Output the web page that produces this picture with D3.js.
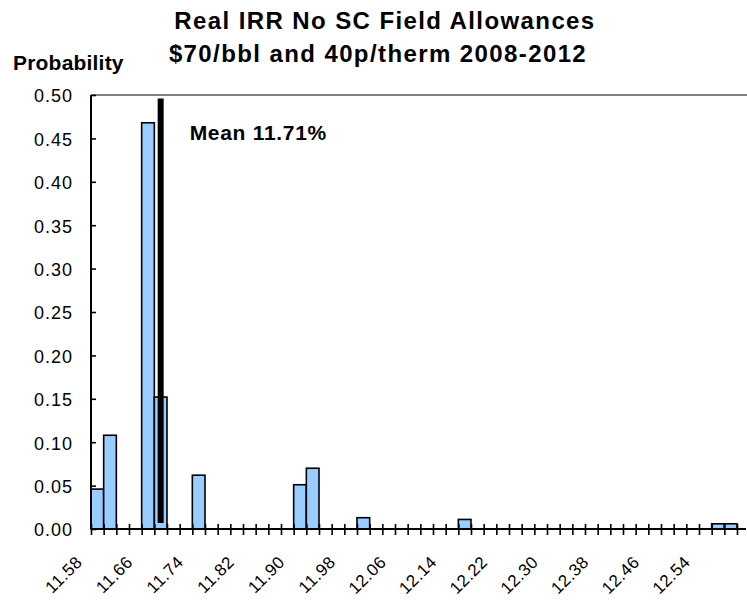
<!DOCTYPE html>
<html>
<head>
<meta charset="utf-8">
<script src="https://cdn.jsdelivr.net/npm/d3@7"></script>
<style>
  html, body { margin: 0; padding: 0; background: #ffffff; }
  svg { display: block; }
  text { font-family: "Liberation Sans", Arial, sans-serif; fill: #000; }
</style>
</head>
<body>
<svg id="chart" width="747" height="600"></svg>
<script>
// ---------- data ----------
const titleLines = ["Real IRR No SC Field Allowances", "$70/bbl and 40p/therm 2008-2012"];
const yAxisTitle = "Probability";

// lower edge of each 0.02-wide IRR bin (%)
const binStarts = [
  11.60, 11.62, 11.64, 11.66, 11.68, 11.70, 11.72, 11.74, 11.76, 11.78,
  11.80, 11.82, 11.84, 11.86, 11.88, 11.90, 11.92, 11.94, 11.96, 11.98,
  12.00, 12.02, 12.04, 12.06, 12.08, 12.10, 12.12, 12.14, 12.16, 12.18,
  12.20, 12.22, 12.24, 12.26, 12.28, 12.30, 12.32, 12.34, 12.36, 12.38,
  12.40, 12.42, 12.44, 12.46, 12.48, 12.50, 12.52, 12.54, 12.56, 12.58,
  12.60
];
const binWidth = 0.02;

const probabilities = [
  0.046, 0.108, 0.000, 0.000, 0.468, 0.152, 0.000, 0.000, 0.062, 0.000,
  0.000, 0.000, 0.000, 0.000, 0.000, 0.000, 0.051, 0.070, 0.000, 0.000,
  0.000, 0.013, 0.000, 0.000, 0.000, 0.000, 0.000, 0.000, 0.000, 0.011,
  0.000, 0.000, 0.000, 0.000, 0.000, 0.000, 0.000, 0.000, 0.000, 0.000,
  0.000, 0.000, 0.000, 0.000, 0.000, 0.000, 0.000, 0.000, 0.000, 0.006,
  0.006
];

const xTickLabels = ["11.58", "11.66", "11.74", "11.82", "11.90", "11.98",
                     "12.06", "12.14", "12.22", "12.30", "12.38", "12.46", "12.54"];
const yTickValues = [0.00, 0.05, 0.10, 0.15, 0.20, 0.25, 0.30, 0.35, 0.40, 0.45, 0.50];

const meanValue = 11.71;
const meanLabel = "Mean 11.71%";
const meanLineSpan = [0.007, 0.496];

// ---------- layout ----------
const svg = d3.select("#chart");
const plot = { left: 91, right: 737, top: 95, bottom: 529 };

const x = d3.scaleLinear()
  .domain([binStarts[0], binStarts[binStarts.length - 1] + binWidth])
  .range([plot.left, plot.right]);
const y = d3.scaleLinear().domain([0, 0.5]).range([plot.bottom, plot.top]);

const bins = binStarts.map((s, i) => ({ start: s, p: probabilities[i] }));

// title
const titleX = [385, 378];
svg.append("g").selectAll("text").data(titleLines).join("text")
  .attr("x", (d, i) => titleX[i])
  .attr("y", (d, i) => 28.5 + i * 33)
  .attr("text-anchor", "middle")
  .attr("font-size", 24)
  .attr("font-weight", "bold")
  .attr("letter-spacing", 1.4)
  .text(d => d);

// y axis title
svg.append("text")
  .attr("x", 13).attr("y", 70)
  .attr("font-size", 21).attr("font-weight", "bold")
  .attr("letter-spacing", 0.2)
  .text(yAxisTitle);

// plot top border
svg.append("line")
  .attr("x1", plot.left).attr("x2", 747)
  .attr("y1", plot.top).attr("y2", plot.top)
  .attr("stroke", "#808080").attr("stroke-width", 2);

// bars
svg.append("g").selectAll("rect").data(bins.filter(d => d.p > 0)).join("rect")
  .attr("x", d => x(d.start))
  .attr("width", d => x(d.start + binWidth) - x(d.start))
  .attr("y", d => y(d.p))
  .attr("height", d => y(0) - y(d.p))
  .attr("fill", "#99ccff")
  .attr("stroke", "#000")
  .attr("stroke-width", 1.6);

// x axis
const xAxis = d3.axisBottom(x)
  .tickValues(binStarts.concat([binStarts[binStarts.length - 1] + binWidth]))
  .tickSize(5)
  .tickFormat("");
const gx = svg.append("g").attr("transform", `translate(0,${plot.bottom})`).call(xAxis);
gx.select(".domain").remove();
gx.selectAll(".tick line").attr("y1", -5).attr("y2", 6).attr("stroke", "#000").attr("stroke-width", 1.6);
gx.append("line").attr("x1", plot.left).attr("x2", 746).attr("y1", 0).attr("y2", 0)
  .attr("stroke", "#000").attr("stroke-width", 2);

// x tick labels (rotated)
svg.append("g").selectAll("text").data(xTickLabels).join("text")
  .attr("transform", d => `translate(${x(+d) + 0.7},${plot.bottom + 30}) rotate(-45)`)
  .attr("text-anchor", "end")
  .attr("dy", "0.35em")
  .attr("font-size", 17)
  .attr("letter-spacing", 0.5)
  .text(d => d);

// y axis
const yAxis = d3.axisLeft(y)
  .tickValues(yTickValues)
  .tickSize(-5)
  .tickPadding(18)
  .tickFormat(d3.format(".2f"));
const gy = svg.append("g").attr("transform", `translate(${plot.left},0)`).call(yAxis);
gy.select(".domain").attr("stroke", "#000").attr("stroke-width", 2).attr("d", `M0,${plot.top}V${plot.bottom}`);
gy.selectAll(".tick line").attr("stroke", "#000").attr("stroke-width", 1.6);
gy.selectAll(".tick text")
  .attr("font-size", 18)
  .attr("letter-spacing", 1)
  .attr("dy", "0.38em")
  .attr("font-family", "Liberation Sans, Arial, sans-serif")
  .attr("fill", "#000");

// mean line
svg.append("line")
  .attr("x1", x(meanValue)).attr("x2", x(meanValue))
  .attr("y1", y(meanLineSpan[0])).attr("y2", y(meanLineSpan[1]))
  .attr("stroke", "#000").attr("stroke-width", 6);

svg.append("text")
  .attr("x", x(meanValue) + 29)
  .attr("y", 140)
  .attr("font-size", 21)
  .attr("font-weight", "bold")
  .attr("letter-spacing", 0.7)
  .text(meanLabel);
</script>
</body>
</html>
